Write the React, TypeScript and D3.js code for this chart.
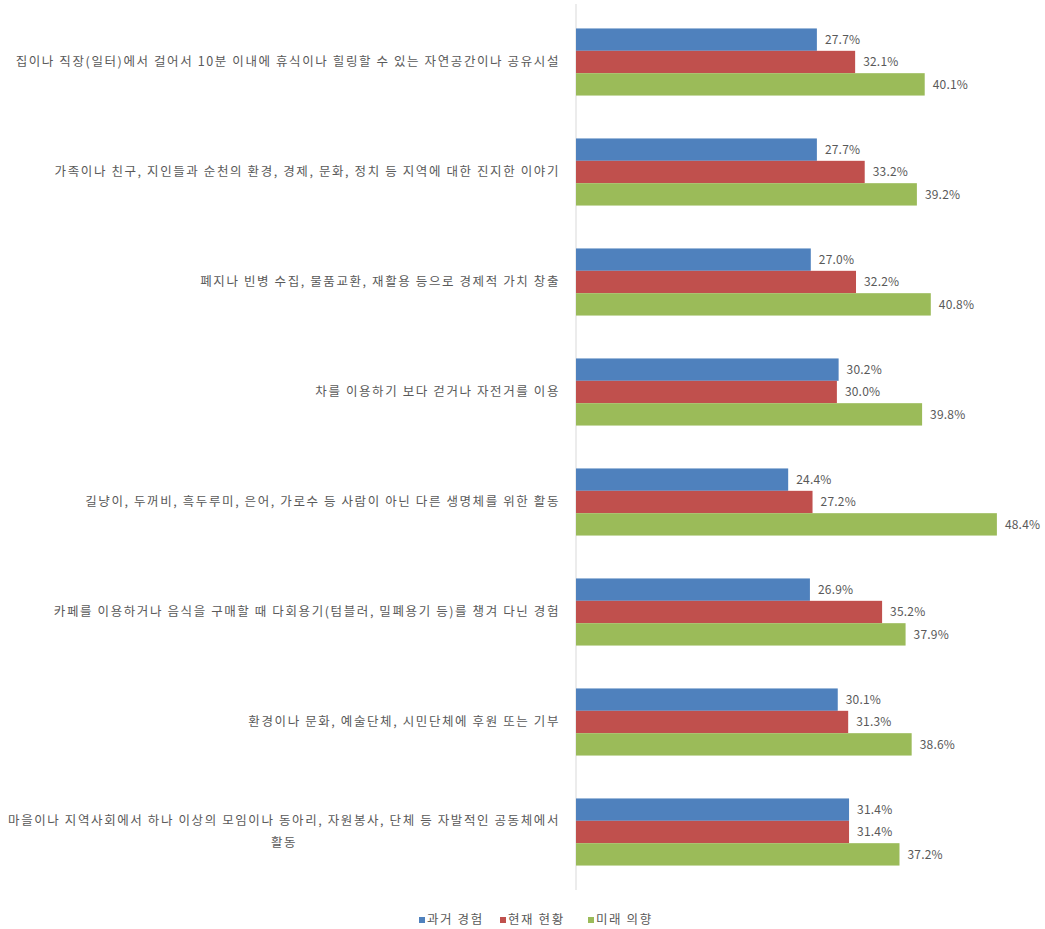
import React, { useEffect, useRef } from "react";
import * as d3 from "d3";

const categories: string[] = [
  "집이나 직장(일터)에서 걸어서 10분 이내에 휴식이나 힐링할 수 있는 자연공간이나 공유시설",
  "가족이나 친구, 지인들과 순천의 환경, 경제, 문화, 정치 등 지역에 대한 진지한 이야기",
  "폐지나 빈병 수집, 물품교환, 재활용 등으로 경제적 가치 창출",
  "차를 이용하기 보다 걷거나 자전거를 이용",
  "길냥이, 두꺼비, 흑두루미, 은어, 가로수 등 사람이 아닌 다른 생명체를 위한 활동",
  "카페를 이용하거나 음식을 구매할 때 다회용기(텀블러, 밀폐용기 등)를 챙겨 다닌 경험",
  "환경이나 문화, 예술단체, 시민단체에 후원 또는 기부",
  "마을이나 지역사회에서 하나 이상의 모임이나 동아리, 자원봉사, 단체 등 자발적인 공동체에서\n활동",
];
const seriesNames: string[] = ["과거 경험", "현재 현황", "미래 의향"];
const past: number[] = [27.7, 27.7, 27.0, 30.2, 24.4, 26.9, 30.1, 31.4];
const present: number[] = [32.1, 33.2, 32.2, 30.0, 27.2, 35.2, 31.3, 31.4];
const future: number[] = [40.1, 39.2, 40.8, 39.8, 48.4, 37.9, 38.6, 37.2];
const colors: string[] = ["#4F81BD", "#C0504D", "#9BBB59"];

const W = 1045;
const H = 929;
const FONT = "'Noto Sans CJK KR', 'Noto Sans', sans-serif";
const TXT = "#595959";
const LABEL_FS = 12.5;
const LABEL_LS = 1.6;

export default function App() {
  const ref = useRef<SVGSVGElement | null>(null);
  useEffect(() => {
    const svg = d3.select(ref.current);
    svg.selectAll("*").remove();
    const values = [past, present, future];
    const x0 = 576;
    const x = d3.scaleLinear().domain([0, 50]).range([x0, x0 + 50 * 8.696]);
    const y = d3.scaleBand<number>().domain(d3.range(categories.length)).range([7, 887]).paddingInner(0.39).paddingOuter(0.195);
    const ys = d3.scaleBand<number>().domain(d3.range(3)).range([0, y.bandwidth()]);

    svg.append("line").attr("x1", x0).attr("x2", x0).attr("y1", 4).attr("y2", 890)
      .attr("stroke", "#D9D9D9").attr("stroke-width", 1);

    values.forEach((vals, s) => {
      const g = svg.append("g");
      g.selectAll("rect").data(vals).join("rect")
        .attr("x", x(0))
        .attr("y", (_d, i) => (y(i) as number) + (ys(s) as number))
        .attr("width", (d) => x(d) - x(0))
        .attr("height", ys.bandwidth())
        .attr("fill", colors[s]);
      g.selectAll("text").data(vals).join("text")
        .attr("x", (d) => x(d) + 8)
        .attr("y", (_d, i) => (y(i) as number) + (ys(s) as number) + ys.bandwidth() / 2)
        .attr("dy", "0.35em")
        .attr("font-family", FONT)
        .attr("font-size", 12)
        .attr("letter-spacing", 0.2)
        .attr("fill", TXT)
        .text((d) => d.toFixed(1) + "%");
    });

    const labelRight = 560;
    categories.forEach((c, i) => {
      const lines = c.split("\n");
      const cy = (y(i) as number) + y.bandwidth() / 2;
      const lh = 22;
      const mk = (xx: number, yy: number, anchor: string, t: string) =>
        svg.append("text").attr("x", xx).attr("y", yy).attr("dy", "0.35em")
          .attr("text-anchor", anchor).attr("font-family", FONT).attr("font-size", LABEL_FS)
          .attr("letter-spacing", LABEL_LS).attr("fill", TXT).text(t);
      if (lines.length === 1) {
        mk(labelRight, cy, "end", c);
      } else {
        const t1 = mk(labelRight, cy - lh / 2, "end", lines[0]);
        const w = (t1.node() as SVGTextElement).getComputedTextLength();
        mk(labelRight - w / 2, cy + lh / 2, "middle", lines[1]);
      }
    });

    const legendX = [419, 500, 588];
    const ly = 920;
    seriesNames.forEach((n, s) => {
      svg.append("rect").attr("x", legendX[s]).attr("y", ly - 3).attr("width", 6).attr("height", 6).attr("fill", colors[s]);
      svg.append("text").attr("x", legendX[s] + 8).attr("y", ly).attr("dy", "0.35em")
        .attr("font-family", FONT).attr("font-size", LABEL_FS).attr("letter-spacing", LABEL_LS).attr("fill", TXT).text(n);
    });
  }, []);
  return (
    <div style={{ position: "absolute", left: 0, top: 0 }}>
      <svg ref={ref} width={W} height={H} style={{ display: "block", background: "#fff" }} />
    </div>
  );
}
